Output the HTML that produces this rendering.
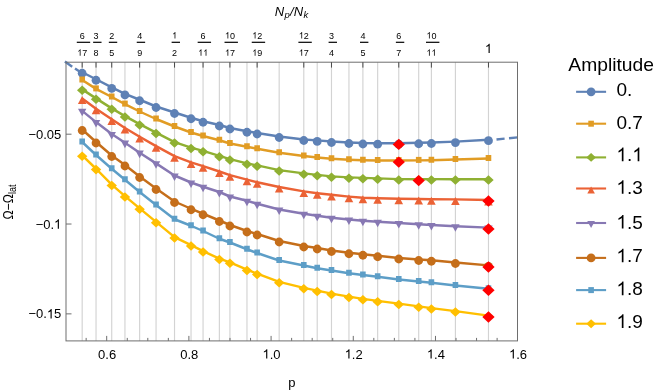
<!DOCTYPE html>
<html><head><meta charset="utf-8"><title>plot</title>
<style>html,body{margin:0;padding:0;background:#fff}body{width:664px;height:392px;overflow:hidden}svg{will-change:transform;-webkit-font-smoothing:antialiased}</style>
</head><body>
<svg width="664" height="392" viewBox="0 0 664 392" style="display:block;font-family:'Liberation Sans',sans-serif">
<rect width="664" height="392" fill="#fff"/>
<path d="M82.18 62.2V340.9M96.03 62.2V340.9M111.73 62.2V340.9M124.95 62.2V340.9M139.64 62.2V340.9M156.05 62.2V340.9M174.52 62.2V340.9M191.04 62.2V340.9M203.06 62.2V340.9M219.37 62.2V340.9M229.92 62.2V340.9M246.97 62.2V340.9M257.14 62.2V340.9M279.17 62.2V340.9M303.79 62.2V340.9M317.22 62.2V340.9M331.49 62.2V340.9M348.94 62.2V340.9M362.89 62.2V340.9M377.66 62.2V340.9M398.77 62.2V340.9M418.70 62.2V340.9M431.39 62.2V340.9M455.42 62.2V340.9M488.47 62.2V340.9" stroke="#d3d3d3" stroke-width="1.15" fill="none"/>
<clipPath id="cp"><rect x="66.0" y="62.2" width="451.5" height="278.7"/></clipPath>
<polyline points="82.18,72.25 96.03,79.25 111.73,87.40 124.95,93.90 139.64,99.75 156.05,106.50 174.52,112.50 191.04,117.75 203.06,121.25 219.37,125.00 229.92,128.00 246.97,131.25 257.14,133.00 279.17,136.50 303.79,139.50 317.22,140.40 331.49,141.50 348.94,142.50 362.89,143.00 377.66,143.20 398.77,143.20 418.70,142.75 431.39,142.50 455.42,141.60 488.47,139.70" fill="none" stroke="#5E81B5" stroke-width="2.45" stroke-linejoin="round"/>
<g stroke="#5E81B5" stroke-width="2.45" fill="none">
<path d="M64.9 61.6L72.2 66.75M75.0 68.5L82.2 73.3"/>
<path d="M496.5 139.45L504.6 138.6M509 138.2L517.6 137.35"/>
</g>
<circle cx="82.18" cy="73.25" r="4.40" fill="#5E81B5"/>
<circle cx="96.03" cy="80.25" r="4.40" fill="#5E81B5"/>
<circle cx="111.73" cy="88.40" r="4.40" fill="#5E81B5"/>
<circle cx="124.95" cy="94.90" r="4.40" fill="#5E81B5"/>
<circle cx="139.64" cy="100.75" r="4.40" fill="#5E81B5"/>
<circle cx="156.05" cy="107.50" r="4.40" fill="#5E81B5"/>
<circle cx="174.52" cy="113.50" r="4.40" fill="#5E81B5"/>
<circle cx="191.04" cy="118.75" r="4.40" fill="#5E81B5"/>
<circle cx="203.06" cy="122.25" r="4.40" fill="#5E81B5"/>
<circle cx="219.37" cy="126.00" r="4.40" fill="#5E81B5"/>
<circle cx="229.92" cy="129.00" r="4.40" fill="#5E81B5"/>
<circle cx="246.97" cy="132.25" r="4.40" fill="#5E81B5"/>
<circle cx="257.14" cy="134.00" r="4.40" fill="#5E81B5"/>
<circle cx="279.17" cy="137.50" r="4.40" fill="#5E81B5"/>
<circle cx="303.79" cy="140.50" r="4.40" fill="#5E81B5"/>
<circle cx="317.22" cy="141.40" r="4.40" fill="#5E81B5"/>
<circle cx="331.49" cy="142.50" r="4.40" fill="#5E81B5"/>
<circle cx="348.94" cy="143.50" r="4.40" fill="#5E81B5"/>
<circle cx="362.89" cy="144.00" r="4.40" fill="#5E81B5"/>
<circle cx="377.66" cy="144.20" r="4.40" fill="#5E81B5"/>
<circle cx="398.77" cy="144.20" r="4.40" fill="#5E81B5"/>
<circle cx="418.70" cy="143.75" r="4.40" fill="#5E81B5"/>
<circle cx="431.39" cy="143.50" r="4.40" fill="#5E81B5"/>
<circle cx="455.42" cy="142.60" r="4.40" fill="#5E81B5"/>
<circle cx="488.47" cy="140.70" r="4.40" fill="#5E81B5"/>
<path d="M392.62 144.40L398.77 138.75L404.92 144.40L398.77 150.05Z" fill="#FF0000"/>
<polyline points="82.18,80.00 96.03,88.90 111.73,97.00 124.95,104.10 139.64,111.50 156.05,119.00 174.52,126.50 191.04,132.50 203.06,136.00 219.37,140.25 229.92,143.50 246.97,146.75 257.14,148.75 279.17,152.75 303.79,156.00 317.22,157.50 331.49,158.75 348.94,159.75 362.89,160.25 377.66,160.50 398.77,160.55 418.70,160.40 431.39,160.25 455.42,159.50 488.47,158.50" fill="none" stroke="#E19C24" stroke-width="2.45" stroke-linejoin="round"/>
<rect x="79.38" y="76.50" width="5.60" height="6.00" fill="#E19C24"/>
<rect x="93.23" y="85.40" width="5.60" height="6.00" fill="#E19C24"/>
<rect x="108.93" y="93.50" width="5.60" height="6.00" fill="#E19C24"/>
<rect x="122.15" y="100.60" width="5.60" height="6.00" fill="#E19C24"/>
<rect x="136.84" y="108.00" width="5.60" height="6.00" fill="#E19C24"/>
<rect x="153.25" y="115.50" width="5.60" height="6.00" fill="#E19C24"/>
<rect x="171.72" y="123.00" width="5.60" height="6.00" fill="#E19C24"/>
<rect x="188.24" y="129.00" width="5.60" height="6.00" fill="#E19C24"/>
<rect x="200.26" y="132.50" width="5.60" height="6.00" fill="#E19C24"/>
<rect x="216.57" y="136.75" width="5.60" height="6.00" fill="#E19C24"/>
<rect x="227.12" y="140.00" width="5.60" height="6.00" fill="#E19C24"/>
<rect x="244.17" y="143.25" width="5.60" height="6.00" fill="#E19C24"/>
<rect x="254.34" y="145.25" width="5.60" height="6.00" fill="#E19C24"/>
<rect x="276.37" y="149.25" width="5.60" height="6.00" fill="#E19C24"/>
<rect x="300.99" y="152.50" width="5.60" height="6.00" fill="#E19C24"/>
<rect x="314.42" y="154.00" width="5.60" height="6.00" fill="#E19C24"/>
<rect x="328.69" y="155.25" width="5.60" height="6.00" fill="#E19C24"/>
<rect x="346.14" y="156.25" width="5.60" height="6.00" fill="#E19C24"/>
<rect x="360.09" y="156.75" width="5.60" height="6.00" fill="#E19C24"/>
<rect x="374.86" y="157.00" width="5.60" height="6.00" fill="#E19C24"/>
<rect x="395.97" y="157.05" width="5.60" height="6.00" fill="#E19C24"/>
<rect x="415.90" y="156.90" width="5.60" height="6.00" fill="#E19C24"/>
<rect x="428.59" y="156.75" width="5.60" height="6.00" fill="#E19C24"/>
<rect x="452.62" y="156.00" width="5.60" height="6.00" fill="#E19C24"/>
<rect x="485.67" y="155.00" width="5.60" height="6.00" fill="#E19C24"/>
<path d="M392.62 162.10L398.77 156.45L404.92 162.10L398.77 167.75Z" fill="#FF0000"/>
<polyline points="82.18,89.40 96.03,98.40 111.73,108.40 124.95,116.15 139.64,124.15 156.05,132.65 174.52,142.15 191.04,147.65 203.06,150.90 219.37,155.90 229.92,159.15 246.97,163.40 257.14,165.40 279.17,170.15 303.79,173.40 317.22,174.90 331.49,176.40 348.94,177.40 362.89,177.90 377.66,178.40 398.77,179.15 418.70,179.25 431.39,179.15 455.42,179.15 488.47,179.15" fill="none" stroke="#8FB032" stroke-width="2.45" stroke-linejoin="round"/>
<path d="M76.98 90.25L82.18 85.45L87.38 90.25L82.18 95.05Z" fill="#8FB032"/>
<path d="M90.83 99.25L96.03 94.45L101.23 99.25L96.03 104.05Z" fill="#8FB032"/>
<path d="M106.53 109.25L111.73 104.45L116.93 109.25L111.73 114.05Z" fill="#8FB032"/>
<path d="M119.75 117.00L124.95 112.20L130.15 117.00L124.95 121.80Z" fill="#8FB032"/>
<path d="M134.44 125.00L139.64 120.20L144.84 125.00L139.64 129.80Z" fill="#8FB032"/>
<path d="M150.85 133.50L156.05 128.70L161.25 133.50L156.05 138.30Z" fill="#8FB032"/>
<path d="M169.32 143.00L174.52 138.20L179.72 143.00L174.52 147.80Z" fill="#8FB032"/>
<path d="M185.84 148.50L191.04 143.70L196.24 148.50L191.04 153.30Z" fill="#8FB032"/>
<path d="M197.86 151.75L203.06 146.95L208.26 151.75L203.06 156.55Z" fill="#8FB032"/>
<path d="M214.17 156.75L219.37 151.95L224.57 156.75L219.37 161.55Z" fill="#8FB032"/>
<path d="M224.72 160.00L229.92 155.20L235.12 160.00L229.92 164.80Z" fill="#8FB032"/>
<path d="M241.77 164.25L246.97 159.45L252.17 164.25L246.97 169.05Z" fill="#8FB032"/>
<path d="M251.94 166.25L257.14 161.45L262.34 166.25L257.14 171.05Z" fill="#8FB032"/>
<path d="M273.97 171.00L279.17 166.20L284.37 171.00L279.17 175.80Z" fill="#8FB032"/>
<path d="M298.59 174.25L303.79 169.45L308.99 174.25L303.79 179.05Z" fill="#8FB032"/>
<path d="M312.02 175.75L317.22 170.95L322.42 175.75L317.22 180.55Z" fill="#8FB032"/>
<path d="M326.29 177.25L331.49 172.45L336.69 177.25L331.49 182.05Z" fill="#8FB032"/>
<path d="M343.74 178.25L348.94 173.45L354.14 178.25L348.94 183.05Z" fill="#8FB032"/>
<path d="M357.69 178.75L362.89 173.95L368.09 178.75L362.89 183.55Z" fill="#8FB032"/>
<path d="M372.46 179.25L377.66 174.45L382.86 179.25L377.66 184.05Z" fill="#8FB032"/>
<path d="M393.57 180.00L398.77 175.20L403.97 180.00L398.77 184.80Z" fill="#8FB032"/>
<path d="M413.50 180.10L418.70 175.30L423.90 180.10L418.70 184.90Z" fill="#8FB032"/>
<path d="M426.19 180.00L431.39 175.20L436.59 180.00L431.39 184.80Z" fill="#8FB032"/>
<path d="M450.22 180.00L455.42 175.20L460.62 180.00L455.42 184.80Z" fill="#8FB032"/>
<path d="M483.27 180.00L488.47 175.20L493.67 180.00L488.47 184.80Z" fill="#8FB032"/>
<path d="M412.55 180.60L418.70 174.95L424.85 180.60L418.70 186.25Z" fill="#FF0000"/>
<polyline points="82.18,98.40 96.03,108.65 111.73,119.30 124.95,128.00 139.64,136.80 156.05,146.15 174.52,156.15 191.04,162.40 203.06,166.15 219.37,171.50 229.92,175.15 246.97,179.60 257.14,182.20 279.17,187.00 303.79,191.40 317.22,193.20 331.49,194.80 348.94,196.60 362.89,197.75 377.66,198.25 398.77,198.75 418.70,199.00 431.39,199.25 455.42,199.40 488.47,200.00" fill="none" stroke="#EB6235" stroke-width="2.45" stroke-linejoin="round"/>
<path d="M77.88 104.00L82.18 96.00L86.48 104.00Z" fill="#EB6235"/>
<path d="M91.73 114.25L96.03 106.25L100.33 114.25Z" fill="#EB6235"/>
<path d="M107.43 124.90L111.73 116.90L116.03 124.90Z" fill="#EB6235"/>
<path d="M120.65 133.60L124.95 125.60L129.25 133.60Z" fill="#EB6235"/>
<path d="M135.34 142.40L139.64 134.40L143.94 142.40Z" fill="#EB6235"/>
<path d="M151.75 151.75L156.05 143.75L160.35 151.75Z" fill="#EB6235"/>
<path d="M170.22 161.75L174.52 153.75L178.82 161.75Z" fill="#EB6235"/>
<path d="M186.74 168.00L191.04 160.00L195.34 168.00Z" fill="#EB6235"/>
<path d="M198.76 171.75L203.06 163.75L207.36 171.75Z" fill="#EB6235"/>
<path d="M215.07 177.10L219.37 169.10L223.67 177.10Z" fill="#EB6235"/>
<path d="M225.62 180.75L229.92 172.75L234.22 180.75Z" fill="#EB6235"/>
<path d="M242.67 185.20L246.97 177.20L251.27 185.20Z" fill="#EB6235"/>
<path d="M252.84 187.80L257.14 179.80L261.44 187.80Z" fill="#EB6235"/>
<path d="M274.87 192.60L279.17 184.60L283.47 192.60Z" fill="#EB6235"/>
<path d="M299.49 197.00L303.79 189.00L308.09 197.00Z" fill="#EB6235"/>
<path d="M312.92 198.80L317.22 190.80L321.52 198.80Z" fill="#EB6235"/>
<path d="M327.19 200.40L331.49 192.40L335.79 200.40Z" fill="#EB6235"/>
<path d="M344.64 202.20L348.94 194.20L353.24 202.20Z" fill="#EB6235"/>
<path d="M358.59 203.35L362.89 195.35L367.19 203.35Z" fill="#EB6235"/>
<path d="M373.36 203.85L377.66 195.85L381.96 203.85Z" fill="#EB6235"/>
<path d="M394.47 204.35L398.77 196.35L403.07 204.35Z" fill="#EB6235"/>
<path d="M414.40 204.60L418.70 196.60L423.00 204.60Z" fill="#EB6235"/>
<path d="M427.09 204.85L431.39 196.85L435.69 204.85Z" fill="#EB6235"/>
<path d="M451.12 205.00L455.42 197.00L459.72 205.00Z" fill="#EB6235"/>
<path d="M484.17 205.60L488.47 197.60L492.77 205.60Z" fill="#EB6235"/>
<path d="M482.32 201.00L488.47 195.35L494.62 201.00L488.47 206.65Z" fill="#FF0000"/>
<polyline points="82.18,110.85 96.03,122.10 111.73,134.00 124.95,142.70 139.64,152.70 156.05,163.35 174.52,175.50 191.04,182.50 203.06,186.75 219.37,192.00 229.92,196.50 246.97,200.75 257.14,203.75 279.17,209.50 303.79,213.75 317.22,215.75 331.49,217.75 348.94,219.50 362.89,220.75 377.66,221.75 398.77,223.00 418.70,224.25 431.39,225.00 455.42,226.25 488.47,227.60" fill="none" stroke="#8778B3" stroke-width="2.45" stroke-linejoin="round"/>
<path d="M77.98 108.75L82.18 116.35L86.38 108.75Z" fill="#8778B3"/>
<path d="M91.83 120.00L96.03 127.60L100.23 120.00Z" fill="#8778B3"/>
<path d="M107.53 131.90L111.73 139.50L115.93 131.90Z" fill="#8778B3"/>
<path d="M120.75 140.60L124.95 148.20L129.15 140.60Z" fill="#8778B3"/>
<path d="M135.44 150.60L139.64 158.20L143.84 150.60Z" fill="#8778B3"/>
<path d="M151.85 161.25L156.05 168.85L160.25 161.25Z" fill="#8778B3"/>
<path d="M170.32 173.40L174.52 181.00L178.72 173.40Z" fill="#8778B3"/>
<path d="M186.84 180.40L191.04 188.00L195.24 180.40Z" fill="#8778B3"/>
<path d="M198.86 184.65L203.06 192.25L207.26 184.65Z" fill="#8778B3"/>
<path d="M215.17 189.90L219.37 197.50L223.57 189.90Z" fill="#8778B3"/>
<path d="M225.72 194.40L229.92 202.00L234.12 194.40Z" fill="#8778B3"/>
<path d="M242.77 198.65L246.97 206.25L251.17 198.65Z" fill="#8778B3"/>
<path d="M252.94 201.65L257.14 209.25L261.34 201.65Z" fill="#8778B3"/>
<path d="M274.97 207.40L279.17 215.00L283.37 207.40Z" fill="#8778B3"/>
<path d="M299.59 211.65L303.79 219.25L307.99 211.65Z" fill="#8778B3"/>
<path d="M313.02 213.65L317.22 221.25L321.42 213.65Z" fill="#8778B3"/>
<path d="M327.29 215.65L331.49 223.25L335.69 215.65Z" fill="#8778B3"/>
<path d="M344.74 217.40L348.94 225.00L353.14 217.40Z" fill="#8778B3"/>
<path d="M358.69 218.65L362.89 226.25L367.09 218.65Z" fill="#8778B3"/>
<path d="M373.46 219.65L377.66 227.25L381.86 219.65Z" fill="#8778B3"/>
<path d="M394.57 220.90L398.77 228.50L402.97 220.90Z" fill="#8778B3"/>
<path d="M414.50 222.15L418.70 229.75L422.90 222.15Z" fill="#8778B3"/>
<path d="M427.19 222.90L431.39 230.50L435.59 222.90Z" fill="#8778B3"/>
<path d="M451.22 224.15L455.42 231.75L459.62 224.15Z" fill="#8778B3"/>
<path d="M484.27 225.50L488.47 233.10L492.67 225.50Z" fill="#8778B3"/>
<path d="M482.32 229.00L488.47 223.35L494.62 229.00L488.47 234.65Z" fill="#FF0000"/>
<polyline points="82.18,129.50 96.03,142.00 111.73,155.50 124.95,165.00 139.64,176.50 156.05,188.50 174.52,201.50 191.04,208.75 203.06,213.75 219.37,220.50 229.92,225.00 246.97,231.00 257.14,234.00 279.17,241.00 303.79,246.00 317.22,248.00 331.49,250.50 348.94,252.75 362.89,254.25 377.66,255.75 398.77,258.00 418.70,259.50 431.39,260.25 455.42,262.50 488.47,265.40" fill="none" stroke="#C56E1A" stroke-width="2.45" stroke-linejoin="round"/>
<circle cx="82.18" cy="130.50" r="4.40" fill="#C56E1A"/>
<circle cx="96.03" cy="143.00" r="4.40" fill="#C56E1A"/>
<circle cx="111.73" cy="156.50" r="4.40" fill="#C56E1A"/>
<circle cx="124.95" cy="166.00" r="4.40" fill="#C56E1A"/>
<circle cx="139.64" cy="177.50" r="4.40" fill="#C56E1A"/>
<circle cx="156.05" cy="189.50" r="4.40" fill="#C56E1A"/>
<circle cx="174.52" cy="202.50" r="4.40" fill="#C56E1A"/>
<circle cx="191.04" cy="209.75" r="4.40" fill="#C56E1A"/>
<circle cx="203.06" cy="214.75" r="4.40" fill="#C56E1A"/>
<circle cx="219.37" cy="221.50" r="4.40" fill="#C56E1A"/>
<circle cx="229.92" cy="226.00" r="4.40" fill="#C56E1A"/>
<circle cx="246.97" cy="232.00" r="4.40" fill="#C56E1A"/>
<circle cx="257.14" cy="235.00" r="4.40" fill="#C56E1A"/>
<circle cx="279.17" cy="242.00" r="4.40" fill="#C56E1A"/>
<circle cx="303.79" cy="247.00" r="4.40" fill="#C56E1A"/>
<circle cx="317.22" cy="249.00" r="4.40" fill="#C56E1A"/>
<circle cx="331.49" cy="251.50" r="4.40" fill="#C56E1A"/>
<circle cx="348.94" cy="253.75" r="4.40" fill="#C56E1A"/>
<circle cx="362.89" cy="255.25" r="4.40" fill="#C56E1A"/>
<circle cx="377.66" cy="256.75" r="4.40" fill="#C56E1A"/>
<circle cx="398.77" cy="259.00" r="4.40" fill="#C56E1A"/>
<circle cx="418.70" cy="260.50" r="4.40" fill="#C56E1A"/>
<circle cx="431.39" cy="261.25" r="4.40" fill="#C56E1A"/>
<circle cx="455.42" cy="263.50" r="4.40" fill="#C56E1A"/>
<circle cx="488.47" cy="266.40" r="4.40" fill="#C56E1A"/>
<path d="M482.32 267.00L488.47 261.35L494.62 267.00L488.47 272.65Z" fill="#FF0000"/>
<polyline points="82.18,142.00 96.03,155.00 111.73,168.75 124.95,179.75 139.64,192.00 156.05,205.00 174.52,219.25 191.04,225.75 203.06,231.00 219.37,238.75 229.92,242.50 246.97,249.25 257.14,253.00 279.17,260.50 303.79,265.50 317.22,268.25 331.49,270.50 348.94,273.25 362.89,275.00 377.66,276.75 398.77,279.50 418.70,281.50 431.39,282.75 455.42,285.50 488.47,288.80" fill="none" stroke="#5D9EC7" stroke-width="2.45" stroke-linejoin="round"/>
<rect x="79.38" y="138.50" width="5.60" height="6.00" fill="#5D9EC7"/>
<rect x="93.23" y="151.50" width="5.60" height="6.00" fill="#5D9EC7"/>
<rect x="108.93" y="165.25" width="5.60" height="6.00" fill="#5D9EC7"/>
<rect x="122.15" y="176.25" width="5.60" height="6.00" fill="#5D9EC7"/>
<rect x="136.84" y="188.50" width="5.60" height="6.00" fill="#5D9EC7"/>
<rect x="153.25" y="201.50" width="5.60" height="6.00" fill="#5D9EC7"/>
<rect x="171.72" y="215.75" width="5.60" height="6.00" fill="#5D9EC7"/>
<rect x="188.24" y="222.25" width="5.60" height="6.00" fill="#5D9EC7"/>
<rect x="200.26" y="227.50" width="5.60" height="6.00" fill="#5D9EC7"/>
<rect x="216.57" y="235.25" width="5.60" height="6.00" fill="#5D9EC7"/>
<rect x="227.12" y="239.00" width="5.60" height="6.00" fill="#5D9EC7"/>
<rect x="244.17" y="245.75" width="5.60" height="6.00" fill="#5D9EC7"/>
<rect x="254.34" y="249.50" width="5.60" height="6.00" fill="#5D9EC7"/>
<rect x="276.37" y="257.00" width="5.60" height="6.00" fill="#5D9EC7"/>
<rect x="300.99" y="262.00" width="5.60" height="6.00" fill="#5D9EC7"/>
<rect x="314.42" y="264.75" width="5.60" height="6.00" fill="#5D9EC7"/>
<rect x="328.69" y="267.00" width="5.60" height="6.00" fill="#5D9EC7"/>
<rect x="346.14" y="269.75" width="5.60" height="6.00" fill="#5D9EC7"/>
<rect x="360.09" y="271.50" width="5.60" height="6.00" fill="#5D9EC7"/>
<rect x="374.86" y="273.25" width="5.60" height="6.00" fill="#5D9EC7"/>
<rect x="395.97" y="276.00" width="5.60" height="6.00" fill="#5D9EC7"/>
<rect x="415.90" y="278.00" width="5.60" height="6.00" fill="#5D9EC7"/>
<rect x="428.59" y="279.25" width="5.60" height="6.00" fill="#5D9EC7"/>
<rect x="452.62" y="282.00" width="5.60" height="6.00" fill="#5D9EC7"/>
<rect x="485.67" y="285.30" width="5.60" height="6.00" fill="#5D9EC7"/>
<path d="M482.32 290.25L488.47 284.60L494.62 290.25L488.47 295.90Z" fill="#FF0000"/>
<polyline points="82.18,155.45 96.03,168.75 111.73,184.65 124.95,196.15 139.64,208.40 156.05,221.90 174.52,237.15 191.04,245.15 203.06,251.15 219.37,258.65 229.92,262.40 246.97,269.65 257.14,273.65 279.17,281.90 303.79,287.90 317.22,290.65 331.49,293.65 348.94,296.65 362.89,298.90 377.66,300.90 398.77,303.65 418.70,306.40 431.39,308.15 455.42,311.15 488.47,315.60" fill="none" stroke="#FFBF00" stroke-width="2.45" stroke-linejoin="round"/>
<path d="M76.98 156.30L82.18 151.50L87.38 156.30L82.18 161.10Z" fill="#FFBF00"/>
<path d="M90.83 169.60L96.03 164.80L101.23 169.60L96.03 174.40Z" fill="#FFBF00"/>
<path d="M106.53 185.50L111.73 180.70L116.93 185.50L111.73 190.30Z" fill="#FFBF00"/>
<path d="M119.75 197.00L124.95 192.20L130.15 197.00L124.95 201.80Z" fill="#FFBF00"/>
<path d="M134.44 209.25L139.64 204.45L144.84 209.25L139.64 214.05Z" fill="#FFBF00"/>
<path d="M150.85 222.75L156.05 217.95L161.25 222.75L156.05 227.55Z" fill="#FFBF00"/>
<path d="M169.32 238.00L174.52 233.20L179.72 238.00L174.52 242.80Z" fill="#FFBF00"/>
<path d="M185.84 246.00L191.04 241.20L196.24 246.00L191.04 250.80Z" fill="#FFBF00"/>
<path d="M197.86 252.00L203.06 247.20L208.26 252.00L203.06 256.80Z" fill="#FFBF00"/>
<path d="M214.17 259.50L219.37 254.70L224.57 259.50L219.37 264.30Z" fill="#FFBF00"/>
<path d="M224.72 263.25L229.92 258.45L235.12 263.25L229.92 268.05Z" fill="#FFBF00"/>
<path d="M241.77 270.50L246.97 265.70L252.17 270.50L246.97 275.30Z" fill="#FFBF00"/>
<path d="M251.94 274.50L257.14 269.70L262.34 274.50L257.14 279.30Z" fill="#FFBF00"/>
<path d="M273.97 282.75L279.17 277.95L284.37 282.75L279.17 287.55Z" fill="#FFBF00"/>
<path d="M298.59 288.75L303.79 283.95L308.99 288.75L303.79 293.55Z" fill="#FFBF00"/>
<path d="M312.02 291.50L317.22 286.70L322.42 291.50L317.22 296.30Z" fill="#FFBF00"/>
<path d="M326.29 294.50L331.49 289.70L336.69 294.50L331.49 299.30Z" fill="#FFBF00"/>
<path d="M343.74 297.50L348.94 292.70L354.14 297.50L348.94 302.30Z" fill="#FFBF00"/>
<path d="M357.69 299.75L362.89 294.95L368.09 299.75L362.89 304.55Z" fill="#FFBF00"/>
<path d="M372.46 301.75L377.66 296.95L382.86 301.75L377.66 306.55Z" fill="#FFBF00"/>
<path d="M393.57 304.50L398.77 299.70L403.97 304.50L398.77 309.30Z" fill="#FFBF00"/>
<path d="M413.50 307.25L418.70 302.45L423.90 307.25L418.70 312.05Z" fill="#FFBF00"/>
<path d="M426.19 309.00L431.39 304.20L436.59 309.00L431.39 313.80Z" fill="#FFBF00"/>
<path d="M450.22 312.00L455.42 307.20L460.62 312.00L455.42 316.80Z" fill="#FFBF00"/>
<path d="M483.27 316.45L488.47 311.65L493.67 316.45L488.47 321.25Z" fill="#FFBF00"/>
<path d="M482.32 317.00L488.47 311.35L494.62 317.00L488.47 322.65Z" fill="#FF0000"/>
<rect x="66.0" y="62.2" width="451.5" height="278.7" fill="none" stroke="#6e6e6e" stroke-width="1"/>
<path d="M86.15 340.9v-3M106.70 340.9v-5M127.25 340.9v-3M147.80 340.9v-3M168.34 340.9v-3M188.89 340.9v-5M209.44 340.9v-3M229.99 340.9v-3M250.54 340.9v-3M271.08 340.9v-5M291.63 340.9v-3M312.18 340.9v-3M332.73 340.9v-3M353.28 340.9v-5M373.82 340.9v-3M394.37 340.9v-3M414.92 340.9v-3M435.47 340.9v-5M456.02 340.9v-3M476.56 340.9v-3M497.11 340.9v-3" stroke="#6e6e6e" stroke-width="1" fill="none"/>
<path d="M66.0 134.19h5.5M66.0 224.03h5.5M66.0 313.87h5.5" stroke="#6e6e6e" stroke-width="1" fill="none"/>
<path d="M82.18 62.2v5.4M96.03 62.2v5.4M111.73 62.2v5.4M139.64 62.2v5.4M174.52 62.2v5.4M203.06 62.2v5.4M229.92 62.2v5.4M257.14 62.2v5.4M303.79 62.2v5.4M331.49 62.2v5.4M362.89 62.2v5.4M398.77 62.2v5.4M431.39 62.2v5.4M488.47 62.2v5.4" stroke="#4a4a4a" stroke-width="1" fill="none"/>
<text x="98.06" y="358.5" font-size="13" fill="#000">0.6</text>
<text x="180.26" y="358.5" font-size="13" fill="#000">0.8</text>
<path transform="translate(262.45,358.5) scale(0.00635,-0.00635)" d="M763 0H583V1147Q518 1085 412.5 1023Q307 961 223 930V1104Q374 1175 487 1276Q600 1377 647 1472H763Z" fill="#000"/><text x="269.68" y="358.5" font-size="13" fill="#000">.0</text>
<path transform="translate(344.64,358.5) scale(0.00635,-0.00635)" d="M763 0H583V1147Q518 1085 412.5 1023Q307 961 223 930V1104Q374 1175 487 1276Q600 1377 647 1472H763Z" fill="#000"/><text x="351.87" y="358.5" font-size="13" fill="#000">.2</text>
<path transform="translate(426.83,358.5) scale(0.00635,-0.00635)" d="M763 0H583V1147Q518 1085 412.5 1023Q307 961 223 930V1104Q374 1175 487 1276Q600 1377 647 1472H763Z" fill="#000"/><text x="434.06" y="358.5" font-size="13" fill="#000">.4</text>
<path transform="translate(509.02,358.5) scale(0.00635,-0.00635)" d="M763 0H583V1147Q518 1085 412.5 1023Q307 961 223 930V1104Q374 1175 487 1276Q600 1377 647 1472H763Z" fill="#000"/><text x="516.25" y="358.5" font-size="13" fill="#000">.6</text>
<text x="28.41" y="138.79" font-size="13" fill="#000">−0.05</text>
<text x="35.64" y="228.63" font-size="13" fill="#000">−0.</text><path transform="translate(54.07,228.63) scale(0.00635,-0.00635)" d="M763 0H583V1147Q518 1085 412.5 1023Q307 961 223 930V1104Q374 1175 487 1276Q600 1377 647 1472H763Z" fill="#000"/>
<text x="28.41" y="318.47" font-size="13" fill="#000">−0.</text><path transform="translate(46.84,318.47) scale(0.00635,-0.00635)" d="M763 0H583V1147Q518 1085 412.5 1023Q307 961 223 930V1104Q374 1175 487 1276Q600 1377 647 1472H763Z" fill="#000"/><text x="54.07" y="318.47" font-size="13" fill="#000">5</text>
<text x="291.8" y="386.5" font-size="13" text-anchor="middle" fill="#000">p</text>
<text transform="translate(12.8,219.6) rotate(-90) scale(0.895,1)" font-size="13.8" fill="#000">Ω−Ω<tspan font-size="10" dy="3">lat</tspan></text>
<text x="274.8" y="16" font-size="13" font-style="italic" letter-spacing="0.25" fill="#000">N<tspan font-size="9.5" dy="1.8">p</tspan><tspan dy="-1.8">/N</tspan><tspan font-size="9.5" dy="1.8">k</tspan></text>
<text x="79.68" y="38.5" font-size="9" fill="#000">6</text>
<path transform="translate(77.18,55.8) scale(0.00439,-0.00439)" d="M763 0H583V1147Q518 1085 412.5 1023Q307 961 223 930V1104Q374 1175 487 1276Q600 1377 647 1472H763Z" fill="#000"/><text x="82.18" y="55.8" font-size="9" fill="#000">7</text>
 <path d="M76.78 42.3h13.40" stroke="#000" stroke-width="1.2"/>
<text x="93.53" y="38.5" font-size="9" fill="#000">3</text>
<text x="93.53" y="55.8" font-size="9" fill="#000">8</text>
 <path d="M93.13 42.3h8.40" stroke="#000" stroke-width="1.2"/>
<text x="109.23" y="38.5" font-size="9" fill="#000">2</text>
<text x="109.23" y="55.8" font-size="9" fill="#000">5</text>
 <path d="M108.83 42.3h8.40" stroke="#000" stroke-width="1.2"/>
<text x="137.13" y="38.5" font-size="9" fill="#000">4</text>
<text x="137.13" y="55.8" font-size="9" fill="#000">9</text>
 <path d="M136.74 42.3h8.40" stroke="#000" stroke-width="1.2"/>
<path transform="translate(172.02,38.5) scale(0.00439,-0.00439)" d="M763 0H583V1147Q518 1085 412.5 1023Q307 961 223 930V1104Q374 1175 487 1276Q600 1377 647 1472H763Z" fill="#000"/>
<text x="172.02" y="55.8" font-size="9" fill="#000">2</text>
 <path d="M171.62 42.3h8.40" stroke="#000" stroke-width="1.2"/>
<text x="200.56" y="38.5" font-size="9" fill="#000">6</text>
<path transform="translate(198.06,55.8) scale(0.00439,-0.00439)" d="M763 0H583V1147Q518 1085 412.5 1023Q307 961 223 930V1104Q374 1175 487 1276Q600 1377 647 1472H763Z" fill="#000"/><path transform="translate(203.06,55.8) scale(0.00439,-0.00439)" d="M763 0H583V1147Q518 1085 412.5 1023Q307 961 223 930V1104Q374 1175 487 1276Q600 1377 647 1472H763Z" fill="#000"/>
 <path d="M197.66 42.3h13.40" stroke="#000" stroke-width="1.2"/>
<path transform="translate(224.92,38.5) scale(0.00439,-0.00439)" d="M763 0H583V1147Q518 1085 412.5 1023Q307 961 223 930V1104Q374 1175 487 1276Q600 1377 647 1472H763Z" fill="#000"/><text x="229.92" y="38.5" font-size="9" fill="#000">0</text>
<path transform="translate(224.92,55.8) scale(0.00439,-0.00439)" d="M763 0H583V1147Q518 1085 412.5 1023Q307 961 223 930V1104Q374 1175 487 1276Q600 1377 647 1472H763Z" fill="#000"/><text x="229.92" y="55.8" font-size="9" fill="#000">7</text>
 <path d="M224.52 42.3h13.40" stroke="#000" stroke-width="1.2"/>
<path transform="translate(252.13,38.5) scale(0.00439,-0.00439)" d="M763 0H583V1147Q518 1085 412.5 1023Q307 961 223 930V1104Q374 1175 487 1276Q600 1377 647 1472H763Z" fill="#000"/><text x="257.14" y="38.5" font-size="9" fill="#000">2</text>
<path transform="translate(252.13,55.8) scale(0.00439,-0.00439)" d="M763 0H583V1147Q518 1085 412.5 1023Q307 961 223 930V1104Q374 1175 487 1276Q600 1377 647 1472H763Z" fill="#000"/><text x="257.14" y="55.8" font-size="9" fill="#000">9</text>
 <path d="M251.74 42.3h13.40" stroke="#000" stroke-width="1.2"/>
<path transform="translate(298.79,38.5) scale(0.00439,-0.00439)" d="M763 0H583V1147Q518 1085 412.5 1023Q307 961 223 930V1104Q374 1175 487 1276Q600 1377 647 1472H763Z" fill="#000"/><text x="303.79" y="38.5" font-size="9" fill="#000">2</text>
<path transform="translate(298.79,55.8) scale(0.00439,-0.00439)" d="M763 0H583V1147Q518 1085 412.5 1023Q307 961 223 930V1104Q374 1175 487 1276Q600 1377 647 1472H763Z" fill="#000"/><text x="303.79" y="55.8" font-size="9" fill="#000">7</text>
 <path d="M298.39 42.3h13.40" stroke="#000" stroke-width="1.2"/>
<text x="328.99" y="38.5" font-size="9" fill="#000">3</text>
<text x="328.99" y="55.8" font-size="9" fill="#000">4</text>
 <path d="M328.59 42.3h8.40" stroke="#000" stroke-width="1.2"/>
<text x="360.39" y="38.5" font-size="9" fill="#000">4</text>
<text x="360.39" y="55.8" font-size="9" fill="#000">5</text>
 <path d="M359.99 42.3h8.40" stroke="#000" stroke-width="1.2"/>
<text x="396.27" y="38.5" font-size="9" fill="#000">6</text>
<text x="396.27" y="55.8" font-size="9" fill="#000">7</text>
 <path d="M395.87 42.3h8.40" stroke="#000" stroke-width="1.2"/>
<path transform="translate(426.38,38.5) scale(0.00439,-0.00439)" d="M763 0H583V1147Q518 1085 412.5 1023Q307 961 223 930V1104Q374 1175 487 1276Q600 1377 647 1472H763Z" fill="#000"/><text x="431.39" y="38.5" font-size="9" fill="#000">0</text>
<path transform="translate(426.38,55.8) scale(0.00439,-0.00439)" d="M763 0H583V1147Q518 1085 412.5 1023Q307 961 223 930V1104Q374 1175 487 1276Q600 1377 647 1472H763Z" fill="#000"/><path transform="translate(431.39,55.8) scale(0.00439,-0.00439)" d="M763 0H583V1147Q518 1085 412.5 1023Q307 961 223 930V1104Q374 1175 487 1276Q600 1377 647 1472H763Z" fill="#000"/>
 <path d="M425.99 42.3h13.40" stroke="#000" stroke-width="1.2"/>
<path transform="translate(484.86,53) scale(0.00635,-0.00635)" d="M763 0H583V1147Q518 1085 412.5 1023Q307 961 223 930V1104Q374 1175 487 1276Q600 1377 647 1472H763Z" fill="#000"/>
<text x="568.3" y="71" font-size="19.25" fill="#000">Amplitude</text>
<path d="M576.1 91.8H606.1" stroke="#5E81B5" stroke-width="2.1"/>
<circle cx="591.10" cy="91.80" r="4.40" fill="#5E81B5"/>
<text x="616.40" y="96.4" font-size="19" fill="#000">0.</text>
<path d="M576.1 123.7H606.1" stroke="#E19C24" stroke-width="2.1"/>
<rect x="588.30" y="120.70" width="5.60" height="6.00" fill="#E19C24"/>
<text x="616.40" y="128.7" font-size="19" fill="#000">0.7</text>
<path d="M576.1 157.4H606.1" stroke="#8FB032" stroke-width="2.1"/>
<path d="M586.26 157.40L591.10 152.94L595.94 157.40L591.10 161.86Z" fill="#8FB032"/>
<path transform="translate(616.40,161.2) scale(0.00928,-0.00928)" d="M763 0H583V1147Q518 1085 412.5 1023Q307 961 223 930V1104Q374 1175 487 1276Q600 1377 647 1472H763Z" fill="#000"/><text x="626.97" y="161.2" font-size="19" fill="#000">.</text><path transform="translate(632.25,161.2) scale(0.00928,-0.00928)" d="M763 0H583V1147Q518 1085 412.5 1023Q307 961 223 930V1104Q374 1175 487 1276Q600 1377 647 1472H763Z" fill="#000"/>
<path d="M576.1 188.5H606.1" stroke="#EB6235" stroke-width="2.1"/>
<path d="M587.32 193.43L591.10 186.39L594.88 193.43Z" fill="#EB6235"/>
<path transform="translate(616.40,193.8) scale(0.00928,-0.00928)" d="M763 0H583V1147Q518 1085 412.5 1023Q307 961 223 930V1104Q374 1175 487 1276Q600 1377 647 1472H763Z" fill="#000"/><text x="626.97" y="193.8" font-size="19" fill="#000">.3</text>
<path d="M576.1 223.0H606.1" stroke="#8778B3" stroke-width="2.1"/>
<path d="M587.24 221.07L591.10 228.06L594.96 221.07Z" fill="#8778B3"/>
<path transform="translate(616.40,228.6) scale(0.00928,-0.00928)" d="M763 0H583V1147Q518 1085 412.5 1023Q307 961 223 930V1104Q374 1175 487 1276Q600 1377 647 1472H763Z" fill="#000"/><text x="626.97" y="228.6" font-size="19" fill="#000">.5</text>
<path d="M576.1 257.9H606.1" stroke="#C56E1A" stroke-width="2.1"/>
<circle cx="591.10" cy="257.90" r="4.40" fill="#C56E1A"/>
<path transform="translate(616.40,262.3) scale(0.00928,-0.00928)" d="M763 0H583V1147Q518 1085 412.5 1023Q307 961 223 930V1104Q374 1175 487 1276Q600 1377 647 1472H763Z" fill="#000"/><text x="626.97" y="262.3" font-size="19" fill="#000">.7</text>
<path d="M576.1 290.1H606.1" stroke="#5D9EC7" stroke-width="2.1"/>
<rect x="588.30" y="287.10" width="5.60" height="6.00" fill="#5D9EC7"/>
<path transform="translate(616.40,295.2) scale(0.00928,-0.00928)" d="M763 0H583V1147Q518 1085 412.5 1023Q307 961 223 930V1104Q374 1175 487 1276Q600 1377 647 1472H763Z" fill="#000"/><text x="626.97" y="295.2" font-size="19" fill="#000">.8</text>
<path d="M576.1 323.7H606.1" stroke="#FFBF00" stroke-width="2.1"/>
<path d="M586.26 323.70L591.10 319.24L595.94 323.70L591.10 328.16Z" fill="#FFBF00"/>
<path transform="translate(616.40,327.9) scale(0.00928,-0.00928)" d="M763 0H583V1147Q518 1085 412.5 1023Q307 961 223 930V1104Q374 1175 487 1276Q600 1377 647 1472H763Z" fill="#000"/><text x="626.97" y="327.9" font-size="19" fill="#000">.9</text>
</svg>
</body></html>
